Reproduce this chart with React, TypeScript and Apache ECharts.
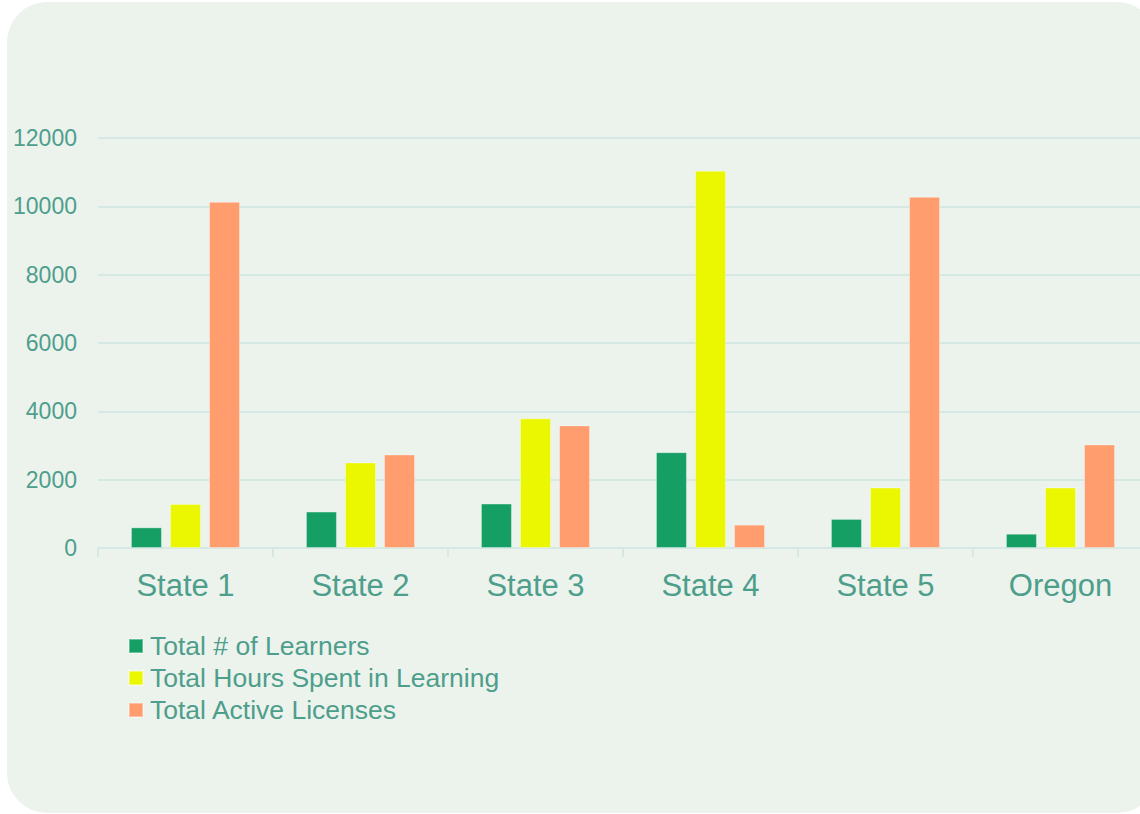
import React, { useEffect, useRef } from "react";
import * as echarts from "echarts";

const categories = ["State 1", "State 2", "State 3", "State 4", "State 5", "Oregon"];
const learners = [605, 1065, 1300, 2805, 851, 420];
const hours = [1291, 2503, 3794, 11042, 1769, 1769];
const licenses = [10132, 2738, 3589, 684, 10279, 3031];
const seriesNames = ["Total # of Learners", "Total Hours Spent in Learning", "Total Active Licenses"];
const colors = ["#159F65", "#EAF700", "#FF9D6E"];
const yTicks = { min: 0, max: 12000, interval: 2000 };

const TEXT = "#4E9E8C";
const FONT = "'Liberation Sans', Arial, sans-serif";

export default function App() {
  const ref = useRef<HTMLDivElement>(null);
  useEffect(() => {
    if (!ref.current) return;
    const chart = echarts.init(ref.current, null, { renderer: "svg" });
    const data = [learners, hours, licenses];
    chart.setOption({
      animation: false,
      backgroundColor: "#ffffff",
      graphic: [
        {
          type: "rect",
          z: -10,
          silent: true,
          shape: { x: 7, y: 2, width: 1150, height: 811, r: 40 },
          style: { fill: "#ECF3EC" },
        },
      ],
      grid: { left: 98, right: 12, top: 138, bottom: 266, containLabel: false },
      legend: {
        orient: "vertical",
        left: 128,
        top: 632,
        padding: 0,
        icon: "rect",
        itemWidth: 14,
        itemHeight: 14,
        itemGap: 4,
        textStyle: { color: TEXT, fontSize: 26.5, fontFamily: FONT, lineHeight: 28, padding: [0, 0, 0, 2] },
        data: seriesNames,
      },
      xAxis: {
        type: "category",
        data: categories,
        axisLine: { lineStyle: { color: "#D5E8E4", width: 2 } },
        axisTick: { show: true, length: 9, lineStyle: { color: "#D5E8E4", width: 2 } },
        axisLabel: { color: TEXT, fontSize: 31, fontFamily: FONT, margin: 22 },
      },
      yAxis: {
        type: "value",
        min: yTicks.min,
        max: yTicks.max,
        interval: yTicks.interval,
        axisLine: { show: false },
        axisTick: { show: false },
        splitLine: { lineStyle: { color: "#D5E8E4", width: 2 } },
        axisLabel: { color: TEXT, fontSize: 23, fontFamily: FONT, margin: 21, formatter: (v: number) => String(v) },
      },
      series: seriesNames.map((name, i) => ({
        name,
        type: "bar",
        data: data[i],
        barWidth: 31,
        barGap: "26%",
        itemStyle: { color: colors[i], borderColor: "rgba(255,255,255,0.35)", borderWidth: 1 },
      })),
    });
    return () => chart.dispose();
  }, []);
  return (
    <div style={{ position: "fixed", left: 0, top: 0, width: 1140, height: 814, overflow: "hidden" }}>
      <div ref={ref} style={{ width: 1160, height: 814 }} />
    </div>
  );
}
